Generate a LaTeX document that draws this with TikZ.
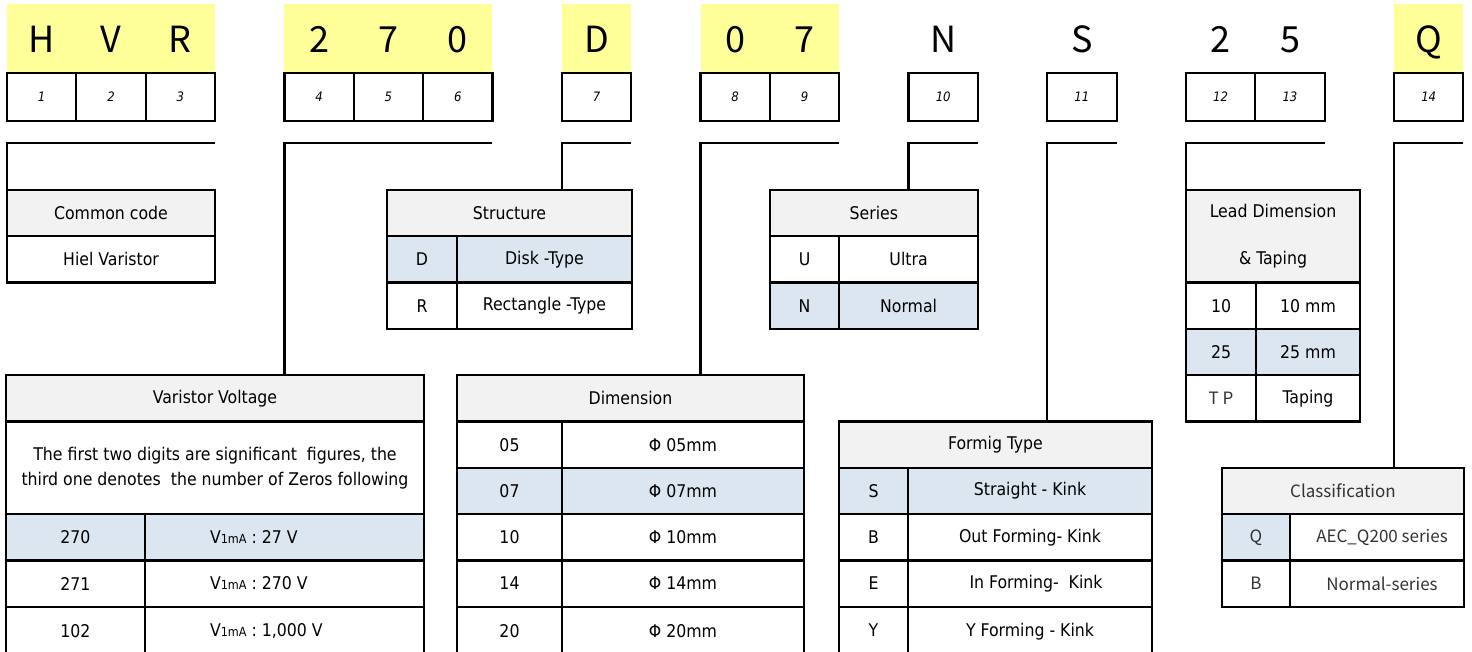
\documentclass[tikz,border=0pt]{standalone}
\usepackage{fontspec}
\newfontfamily\tabfont{DejaVu Sans Condensed}
\newfontfamily\codefont{Noto Sans CJK KR}
\definecolor{hdrgray}{HTML}{F2F2F2}
\definecolor{selblue}{HTML}{DCE6F1}
\definecolor{codeyellow}{HTML}{FFFF99}
\definecolor{softink}{HTML}{333333}

\tikzset{
  cellbase/.style={draw, line width=2.2pt, rectangle, anchor=north west,
    inner sep=0pt, outer sep=0pt, fill=white, align=center,
    font=\tabfont\fontsize{17.5}{20}\selectfont},
  hdr/.style={fill=hdrgray},
  sel/.style={fill=selblue},
  gul/.style={font=\codefont\fontsize{17}{20}\selectfont, text=softink},
  idxbox/.style={draw, line width=2.2pt, rectangle, anchor=north west,
    inner sep=0pt, outer sep=0pt, minimum width=69.35pt, minimum height=47.7pt,
    font=\tabfont\itshape\fontsize{13}{15}\selectfont},
  codeletter/.style={anchor=base, inner sep=0pt, font=\codefont\fontsize{36}{40}\selectfont},
  link/.style={line width=2.2pt},
}

% table cell: options, name, left, top, width, height, text
\newcommand\tcell[7]{\node[cellbase,minimum width=#5pt,minimum height=#6pt,#1] (#2) at (#3,#4) {#7};}
\newcommand\vsub[1]{V{\fontsize{12.5}{14}\selectfont #1}}

\begin{document}
\begin{tikzpicture}[x=1pt,y=-1pt]
\useasboundingbox (0,0) rectangle (1472,652);
\fill[white] (0,0) rectangle (1472,652);

% highlighted code groups
\fill[codeyellow] (7,4) rectangle (215.05,73);
\fill[codeyellow] (284.4,4) rectangle (492.45,73);
\fill[codeyellow] (561.8,4) rectangle (631.15,73);
\fill[codeyellow] (700.5,4) rectangle (839.2,73);
\fill[codeyellow] (1394,4) rectangle (1463.35,73);

% code letters and position boxes
\foreach \c/\t/\n in {0/H/1,1/V/2,2/R/3,4/2/4,5/7/5,6/0/6,8/D/7,10/0/8,11/7/9,13/N/10,15/S/11,17/2/12,18/5/13,20/Q/14} {
  \pgfmathsetmacro\xl{7+69.35*\c}
  \node[idxbox] (i\n) at (\xl,73) {\n};
  \node[codeletter] (l\n) at (\xl+34.675,52.7) {\t};
}

% Common code
\tcell{hdr}{cc}{7}{190}{208.05}{46.3}{Common code}
\tcell{}{cc1}{7}{236.3}{208.05}{46.3}{Hiel Varistor}

% Structure
\tcell{hdr}{st}{387}{190}{245}{46.3}{Structure}
\tcell{sel}{stDa}{387}{236.3}{70}{46.3}{D}
\tcell{sel}{stDb}{457}{236.3}{175}{46.3}{Disk -Type}
\tcell{}{stRa}{387}{282.6}{70}{46.3}{R}
\tcell{}{stRb}{457}{282.6}{175}{46.3}{Rectangle -Type}

% Series
\tcell{hdr}{se}{769.85}{190}{208.05}{46.3}{Series}
\tcell{}{seUa}{769.85}{236.3}{69.35}{46.3}{U}
\tcell{}{seUb}{839.2}{236.3}{138.7}{46.3}{Ultra}
\tcell{sel}{seNa}{769.85}{282.6}{69.35}{46.3}{N}
\tcell{sel}{seNb}{839.2}{282.6}{138.7}{46.3}{Normal}

% Lead dimension & taping
\tcell{hdr,font=\tabfont\fontsize{17.5}{46.3}\selectfont}{ld}{1186}{190}{174}{92.6}{Lead Dimension\\\& Taping}
\tcell{}{ld1a}{1186}{282.6}{70}{46.3}{10}
\tcell{}{ld1b}{1256}{282.6}{104}{46.3}{10 mm}
\tcell{sel}{ld2a}{1186}{328.9}{70}{46.3}{25}
\tcell{sel}{ld2b}{1256}{328.9}{104}{46.3}{25 mm}
\tcell{gul}{ld3a}{1186}{375.2}{70}{46.3}{T P}
\tcell{}{ld3b}{1256}{375.2}{104}{46.3}{Taping}

% Varistor voltage
\tcell{hdr}{vv}{6}{375.2}{418}{46.3}{Varistor Voltage}
\tcell{font=\tabfont\fontsize{17.5}{25}\selectfont}{vv0}{6}{421.5}{418}{92.6}{The first two digits are significant\ \ figures, the\\third one denotes\ \ the number of Zeros following}
\tcell{sel}{vv1a}{6}{514.1}{139}{46.3}{270}
\tcell{sel}{vv1b}{145}{514.1}{279}{46.3}{\makebox[279pt][l]{\hspace*{65pt}\vsub{1mA} : 27 V}}
\tcell{}{vv2a}{6}{560.4}{139}{46.3}{271}
\tcell{}{vv2b}{145}{560.4}{279}{46.3}{\makebox[279pt][l]{\hspace*{65pt}\vsub{1mA} : 270 V}}
\tcell{}{vv3a}{6}{606.7}{139}{49}{\raisebox{1.3pt}{102}}
\tcell{}{vv3b}{145}{606.7}{279}{49}{\raisebox{1.3pt}{\makebox[279pt][l]{\hspace*{65pt}\vsub{1mA} : 1,000 V}}}

% Dimension
\tcell{hdr}{dm}{457}{375.2}{347}{46.3}{Dimension}
\tcell{}{dm1a}{457}{421.5}{105}{46.3}{05}
\tcell{}{dm1b}{562}{421.5}{242}{46.3}{Φ 05mm}
\tcell{sel}{dm2a}{457}{467.8}{105}{46.3}{07}
\tcell{sel}{dm2b}{562}{467.8}{242}{46.3}{Φ 07mm}
\tcell{}{dm3a}{457}{514.1}{105}{46.3}{10}
\tcell{}{dm3b}{562}{514.1}{242}{46.3}{Φ 10mm}
\tcell{}{dm4a}{457}{560.4}{105}{46.3}{14}
\tcell{}{dm4b}{562}{560.4}{242}{46.3}{Φ 14mm}
\tcell{}{dm5a}{457}{606.7}{105}{49}{\raisebox{1.3pt}{20}}
\tcell{}{dm5b}{562}{606.7}{242}{49}{\raisebox{1.3pt}{Φ 20mm}}

% Forming type
\tcell{hdr}{fm}{839}{421.5}{313}{46.3}{Formig Type}
\tcell{sel}{fm1a}{839}{467.8}{69}{46.3}{S}
\tcell{sel}{fm1b}{908}{467.8}{244}{46.3}{Straight - Kink}
\tcell{}{fm2a}{839}{514.1}{69}{46.3}{B}
\tcell{}{fm2b}{908}{514.1}{244}{46.3}{Out Forming- Kink}
\tcell{}{fm3a}{839}{560.4}{69}{46.3}{E}
\tcell{}{fm3b}{908}{560.4}{244}{46.3}{\hspace*{12pt}In Forming-\ \ Kink}
\tcell{}{fm4a}{839}{606.7}{69}{49}{\raisebox{1.3pt}{Y}}
\tcell{}{fm4b}{908}{606.7}{244}{49}{\raisebox{1.3pt}{Y Forming - Kink}}

% Classification
\tcell{hdr,gul}{cl}{1222}{467.8}{242}{46.3}{Classification}
\tcell{sel,gul}{cl1a}{1222}{514.1}{68}{46.3}{Q}
\tcell{gul}{cl1b}{1290}{514.1}{174}{46.3}{\hspace*{10pt}AEC\_Q200 series}
\tcell{gul}{cl2a}{1222}{560.4}{68}{46.3}{B}
\tcell{gul}{cl2b}{1290}{560.4}{174}{46.3}{\hspace*{10pt}Normal-series}

% brackets from the code positions to their tables
\coordinate (top) at (0,143);
\draw[link] (i3.south east |- top) -- (i1.south west |- top) -- (cc.north west);
\draw[link] (i6.south east |- top) -- (i4.south west |- top) -- (i4.south west |- vv.north);
\draw[link] (i7.south east |- top) -- (i7.south west |- top) -- (i7.south west |- st.north);
\draw[link] (i9.south east |- top) -- (i8.south west |- top) -- (i8.south west |- dm.north);
\draw[link] (i10.south east |- top) -- (i10.south west |- top) -- (i10.south west |- se.north);
\draw[link] (i11.south east |- top) -- (i11.south west |- top) -- (i11.south west |- fm.north);
\draw[link] (i13.south east |- top) -- (i12.south west |- top) -- (i12.south west |- ld.north);
\draw[link] (i14.south east |- top) -- (i14.south west |- top) -- (i14.south west |- cl.north);
\end{tikzpicture}
\end{document}
